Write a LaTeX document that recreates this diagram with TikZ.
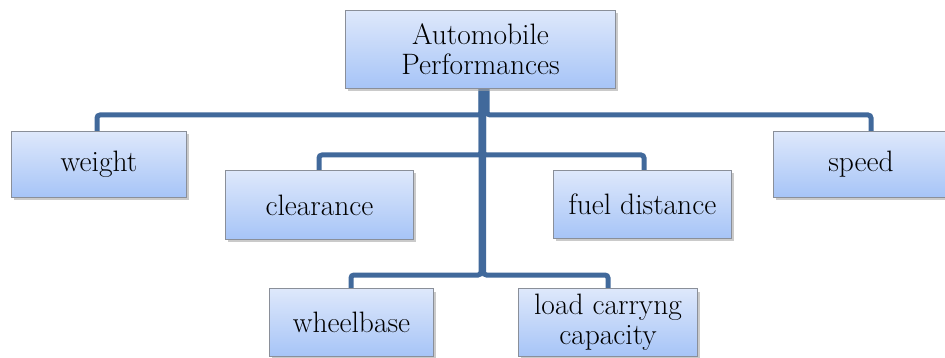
\documentclass[tikz,border=0pt]{standalone}
\usetikzlibrary{shadows}
\definecolor{boxtop}{HTML}{DEE8FB}
\definecolor{boxbot}{HTML}{A6C4F7}
\definecolor{boxline}{HTML}{8A8F99}
\definecolor{connline}{HTML}{41699B}
\tikzset{
  box/.style={rectangle, draw=boxline, line width=1pt, top color=boxtop, bottom color=boxbot,
    anchor=north west, align=center, inner sep=0pt, font=\fontsize{29.5}{30}\selectfont,
    drop shadow={shadow xshift=2pt, shadow yshift=-3pt, fill=black!35, opacity=0.6}},
  conn/.style={draw=connline, line width=5pt, rounded corners=3pt}
}
\begin{document}
\begin{tikzpicture}[x=1pt,y=-1pt]
\useasboundingbox (0,0) rectangle (945,358);
\coordinate (topS1) at (481,88);
\coordinate (topS2) at (487,88);
\coordinate (topS3) at (483.5,88);
% connectors
\draw[conn] (topS1) -- (481,115) -| (97,131);
\draw[conn] (topS2) -- (487,115) -| (871,131);
\draw[conn] (topS1) -- (481,155) -| (319,170);
\draw[conn] (topS3) -- (483.5,155) -| (644,170);
\draw[conn] (topS1) -- (481,275) -| (351,288);
\draw[conn] (topS3) -- (483.5,275) -| (608,288);
% nodes
\node[box, minimum width=270pt, minimum height=78pt] (top) at (345,10) {Automobile\\Performances};
\node[box, minimum width=175pt, minimum height=66pt] (weight) at (11,131) {weight};
\node[box, minimum width=188pt, minimum height=69pt] (clearance) at (225,170) {clearance};
\node[box, minimum width=178pt, minimum height=68pt] (fuel) at (553,170) {fuel distance};
\node[box, minimum width=175pt, minimum height=66pt] (speed) at (773,131) {speed};
\node[box, minimum width=164pt, minimum height=68pt] (wheel) at (269,288) {wheelbase};
\node[box, minimum width=179pt, minimum height=68pt] (load) at (518,288) {load carryng\\capacity};
\end{tikzpicture}
\end{document}
